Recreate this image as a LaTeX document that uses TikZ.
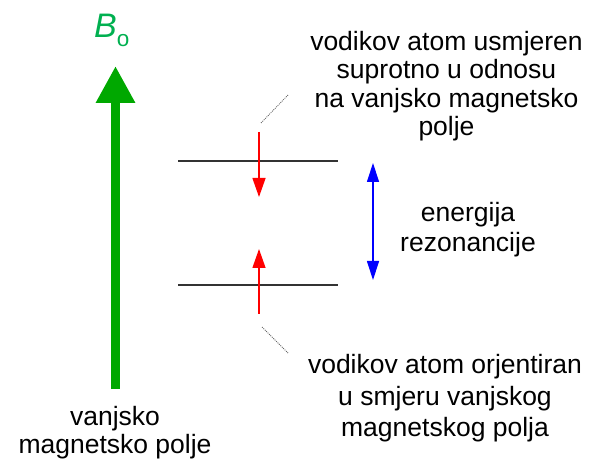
\documentclass[tikz,border=0pt]{standalone}
\usepackage{fontspec}
\setmainfont{Liberation Sans}
\usetikzlibrary{arrows.meta}
\definecolor{fieldgreen}{RGB}{0,168,0}
\definecolor{labelgreen}{RGB}{0,176,80}
\tikzset{
  txt/.style={inner sep=0pt, align=center, anchor=base, font=\fontsize{26.5}{#1}\selectfont},
  level/.style={draw=black!80, line width=1.2pt},
  spin/.style={draw=red, line width=1.3pt, -{Triangle[length=19pt,width=13pt]}},
  gap/.style={draw=blue, line width=1.2pt, {Triangle[length=19pt,width=12pt]}-{Triangle[length=19pt,width=12pt]}},
  leader/.style={draw=black!60, line width=0.8pt, dash pattern=on 1pt off 1pt},
  field/.style={draw=fieldgreen, line width=9.5pt, -{Triangle[length=37pt,width=37pt]}}
}
\begin{document}
\begin{tikzpicture}[x=1pt,y=-1pt]
\useasboundingbox (0,0) rectangle (589,462);
% field arrow
\coordinate (gbot) at (115.5,389);
\coordinate (gtop) at (115.5,66);
\draw[field] (gbot) -- (gtop);
\node[inner sep=0pt, anchor=base west, text=labelgreen] (B) at (94,38)
  {{\fontsize{34}{34}\selectfont\itshape B}\raisebox{-9pt}{\fontsize{22.5}{22.5}\selectfont o}};
% energy levels
\coordinate (u1) at (178,161); \coordinate (u2) at (338,161);
\coordinate (l1) at (178,285); \coordinate (l2) at (338,285);
\draw[level] (u1) -- (u2);
\draw[level] (l1) -- (l2);
% spins
\coordinate (s1a) at (259,132); \coordinate (s1b) at (259,197);
\coordinate (s2a) at (259,314); \coordinate (s2b) at (259,249);
\draw[spin] (s1a) -- (s1b);
\draw[spin] (s2a) -- (s2b);
% resonance energy
\coordinate (ea) at (373,163); \coordinate (eb) at (373,280);
\draw[gap] (ea) -- (eb);
% leaders
\coordinate (d1a) at (261,123); \coordinate (d1b) at (288,95);
\coordinate (d2a) at (262,327); \coordinate (d2b) at (288,353);
\draw[leader] (d1a) -- (d1b);
\draw[leader] (d2a) -- (d2b);
% texts (anchor = baseline of the last line)
\node[txt=28.5] (top) at (446.5,136) {vodikov atom usmjeren\\suprotno u odnosu\\na vanjsko magnetsko\\polje};
\node[txt=30] (en) at (468,251.7) {energija\\rezonancije};
\node[txt=31.7] (bot) at (445,436.7) {vodikov atom orjentiran\\u smjeru vanjskog\\magnetskog polja};
\node[txt=28] (left) at (115,453) {vanjsko\\magnetsko polje};
\end{tikzpicture}
\end{document}
